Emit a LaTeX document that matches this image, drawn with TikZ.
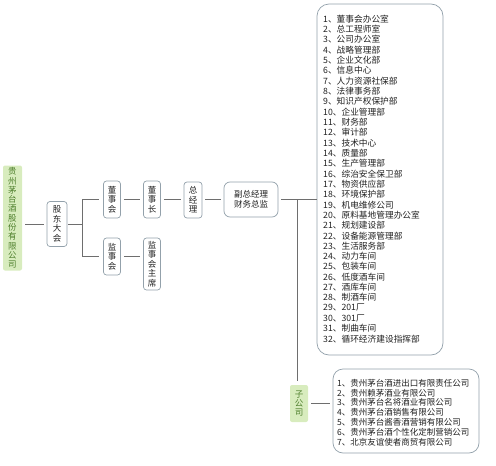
\documentclass[tikz,border=0pt]{standalone}
\usepackage{fontspec}
\setmainfont{Noto Sans CJK SC}
\usetikzlibrary{calc}
\definecolor{frame}{HTML}{93A1AB}
\definecolor{wire}{HTML}{6E6E6E}
\definecolor{leaf}{HTML}{D8ECBE}
\definecolor{leafink}{HTML}{4E7F2C}
\definecolor{ink}{HTML}{222222}
\newcommand{\DeptX}{323}
\newcommand{\DeptY}{19}
\newcommand{\DeptGap}{10.32}
\newcommand{\SubX}{337}
\newcommand{\SubY}{383}
\newcommand{\SubGap}{9.8}

\begin{document}
\begin{tikzpicture}[
    x=1pt, y=-1pt, ink,
    wire/.style={draw=wire, line width=0.8pt},
    link/.style={wire, shorten <=3pt, shorten >=3pt},
    unit/.style={draw=frame, line width=0.7pt, fill=white, rounded corners=3pt, align=center, inner sep=2.5pt, font=\fontsize{8.5}{9.6}\selectfont},
    green unit/.style={fill=leaf, text=leafink, rounded corners=2pt, align=center, inner sep=2pt, font=\fontsize{8.5}{9.3}\selectfont},
    listbox/.style={draw=frame, line width=0.7pt, fill=white},
    item/.style={anchor=west, inner sep=0pt, font=\fontsize{8.7}{8.7}\selectfont},
  ]
\useasboundingbox (0,0) rectangle (496,466);

% Left side: the company and its governing bodies, one character per line.
\node[green unit, minimum width=19, minimum height=105] (company) at (12.5,218) {贵\\州\\茅\\台\\酒\\股\\份\\有\\限\\公\\司};
\node[unit, minimum width=20, minimum height=45] (gudong) at (57,224) {股\\东\\大\\会};
\node[unit, minimum width=17, minimum height=37] (dongshi) at (112,199.5) {董\\事\\会};
\node[unit, minimum width=17, minimum height=37] (dongzhang) at (152,199.5) {董\\事\\长};
\node[unit, minimum width=17, minimum height=37] (jianshi) at (112,256.5) {监\\事\\会};
\node[unit, minimum width=17, minimum height=52] (jianzhu) at (152,264) {监\\事\\会\\主\\席};
\node[unit, minimum width=18, minimum height=36] (zongjing) at (193,200) {总\\经\\理};
\node[unit, rounded corners=6pt, minimum width=54, minimum height=35] (fuzong) at (251,199.5) {副总经理\\财务总监};
\node[green unit, minimum width=18, minimum height=37] (zigongsi) at (299,403.5) {子\\公\\司};

\draw[link] (company.east |- gudong) -- (gudong.west);
\draw[wire, shorten <=1pt] (gudong.east) -- ++(15,0) coordinate (fork);
\draw[wire] (fork |- dongshi) -- (fork |- jianshi);
\draw[wire, shorten >=4pt] (fork |- dongshi) -- (dongshi.west);
\draw[wire, shorten >=4pt] (fork |- jianshi) -- (jianshi.west);
\draw[link] (dongshi.east) -- (dongshi.east -| dongzhang.west);
\draw[link] (jianshi.east) -- (jianshi.east -| jianzhu.west);
\draw[link] (dongzhang.east) -- (dongzhang.east -| zongjing.west);
\draw[link] (zongjing.east |- fuzong) -- (fuzong.west);

% Departments under the general manager.
\node[listbox, rounded corners=12pt, minimum width=126, minimum height=351] (depts) at (380,179.5) {};
\foreach \i/\t in {1/董事会办公室, 2/总工程师室, 3/公司办公室, 4/战略管理部, 5/企业文化部,
    6/信息中心, 7/人力资源社保部, 8/法律事务部, 9/知识产权保护部, 10/企业管理部,
    11/财务部, 12/审计部, 13/技术中心, 14/质量部, 15/生产管理部, 16/综治安全保卫部,
    17/物资供应部, 18/环境保护部, 19/机电维修公司, 20/原料基地管理办公室, 21/规划建设部,
    22/设备能源管理部, 23/生活服务部, 24/动力车间, 25/包装车间, 26/低度酒车间,
    27/酒库车间, 28/制酒车间, 29/201厂, 30/301厂, 31/制曲车间, 32/循环经济建设指挥部} {
  \node[item] (dept\i) at (\DeptX, \DeptY + \i*\DeptGap - \DeptGap) {\i、\t};
}

% Subsidiaries.
\node[listbox, rounded corners=10pt, minimum width=146, minimum height=84] (subs) at (406,411) {};
\foreach \i/\t in {1/贵州茅台酒进出口有限责任公司, 2/贵州赖茅酒业有限公司, 3/贵州茅台名将酒业有限公司,
    4/贵州茅台酒销售有限公司, 5/贵州茅台酱香酒营销有限公司, 6/贵州茅台酒个性化定制营销公司,
    7/北京友谊使者商贸有限公司} {
  \node[item, font=\fontsize{8.5}{8.5}\selectfont] (sub\i) at (\SubX, \SubY + \i*\SubGap - \SubGap) {\i、\t};
}

\coordinate (trunk) at (297,199.5);
\draw[wire, shorten <=3pt] (fuzong.east) -- (fuzong.east -| depts.west);
\draw[wire, shorten >=4pt] (trunk) -- (trunk |- zigongsi.north);
\draw[link] (zigongsi.east) -- (zigongsi.east -| subs.west);

\end{tikzpicture}
\end{document}
